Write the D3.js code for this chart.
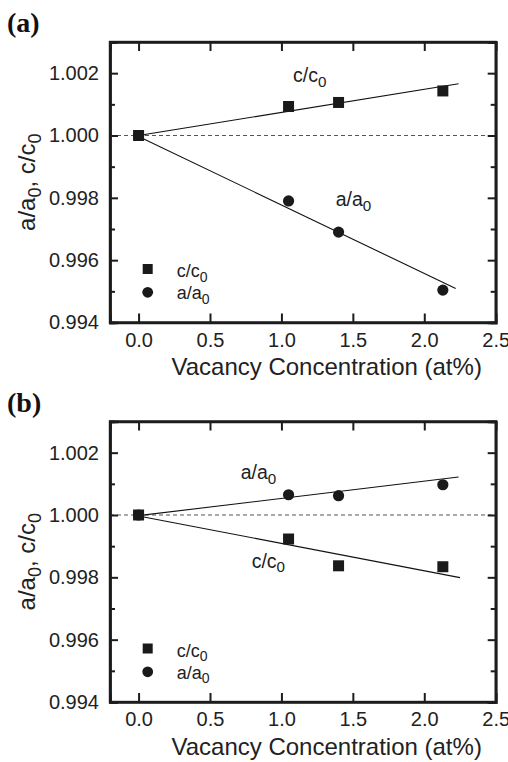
<!DOCTYPE html>
<html><head><meta charset="utf-8">
<script src="https://cdn.jsdelivr.net/npm/d3@7"></script>
<style>body{margin:0;background:#fff}svg{display:block}</style>
</head><body>
<svg id="c" width="508" height="762"></svg>
<script>
const xTicks = [0.0, 0.5, 1.0, 1.5, 2.0, 2.5];
const yTicks = [0.994, 0.996, 0.998, 1.000, 1.002];
const yMinor = [0.995, 0.997, 0.999, 1.001];
const conc = [0.0, 1.05, 1.40, 2.13];
// panel (a)
const aC = [1.0000, 1.00093, 1.00106, 1.00143];
const aA = [1.0000, 0.99790, 0.99690, 0.99504];
const aCfitX = [0.0, 2.24], aCfitY = [1.0000, 1.00166];
const aAfitX = [0.0, 2.22], aAfitY = [0.99997, 0.99509];
// panel (b)
const bA = [1.0000, 1.00065, 1.00062, 1.00097];
const bC = [1.0000, 0.99923, 0.99837, 0.99834];
const bAfitX = [0.0, 2.24], bAfitY = [0.99998, 1.00122];
const bCfitX = [0.0, 2.25], bCfitY = [0.99997, 0.99799];

const svg = d3.select("#c");
const W = 385.7, H = 280.5, L = 110;
const FONT = "Liberation Sans, Arial, sans-serif";

function panel(top, tag, cVals, aVals, cFit, aFit, labC, labA, topSeries) {
  const g = svg.append("g").attr("transform", "translate(" + L + "," + top + ")");
  const x = d3.scaleLinear().domain([-0.2, 2.5]).range([0, W]);
  const y = d3.scaleLinear().domain([0.994, 1.003]).range([H, 0]);
  // frame (drawn first)
  g.append("rect").attr("x", 0).attr("y", 0).attr("width", W).attr("height", H)
    .attr("fill", "none").attr("stroke", "#1c1c1c").attr("stroke-width", 2.4);
  // dashed reference line
  g.append("line").attr("x1", 0).attr("x2", W).attr("y1", y(1.0)).attr("y2", y(1.0))
    .attr("stroke", "#555555").attr("stroke-width", 1.2).attr("stroke-dasharray", "4,3");
  // fit lines
  const line = d3.line().x(d => x(d[0])).y(d => y(d[1]));
  [cFit, aFit].forEach(f => {
    g.append("path").attr("d", line(f[0].map((v, i) => [v, f[1][i]])))
      .attr("fill", "none").attr("stroke", "#111111").attr("stroke-width", 1.1);
  });
  // axes: tick marks point inward
  const fmtY = d3.format(".3f"), fmtX = d3.format(".1f");
  const axes = [
    g.append("g").attr("transform", "translate(0," + H + ")")
      .call(d3.axisBottom(x).tickValues(xTicks).tickSize(-9).tickPadding(10).tickFormat(fmtX)),
    g.append("g").call(d3.axisTop(x).tickValues(xTicks).tickSize(-9).tickFormat("")),
    g.append("g").call(d3.axisLeft(y).tickValues(yTicks).tickSize(-8).tickPadding(11).tickFormat(fmtY)),
    g.append("g").attr("transform", "translate(" + W + ",0)")
      .call(d3.axisRight(y).tickValues(yTicks).tickSize(-8).tickFormat("")),
    g.append("g").call(d3.axisLeft(y).tickValues(yMinor).tickSize(-5).tickFormat("")),
    g.append("g").attr("transform", "translate(" + W + ",0)")
      .call(d3.axisRight(y).tickValues(yMinor).tickSize(-5).tickFormat(""))
  ];
  axes.forEach(a => {
    a.select(".domain").attr("stroke", "#1c1c1c").attr("stroke-width", 2.4);
    a.selectAll(".tick line").attr("stroke", "#1c1c1c").attr("stroke-width", 2);
    a.selectAll(".tick text").attr("fill", "#222222").style("font-family", FONT).style("font-size", "20px");
  });
  // markers
  const sq = 11, r = 5.6;
  function drawC() {
    g.selectAll(null).data(conc).enter().append("rect")
      .attr("x", (d) => x(d) - sq / 2).attr("y", (d, i) => y(cVals[i]) - sq / 2)
      .attr("width", sq).attr("height", sq).attr("fill", "#1a1a1a");
  }
  function drawA() {
    g.selectAll(null).data(conc).enter().append("circle")
      .attr("cx", d => x(d)).attr("cy", (d, i) => y(aVals[i])).attr("r", r).attr("fill", "#1a1a1a");
  }
  if (topSeries === "c") { drawA(); drawC(); } else { drawC(); drawA(); }
  function sub(parent, px, py, base, size) {
    const t = parent.append("text").attr("x", px).attr("y", py)
      .style("font-family", FONT).style("font-size", size + "px").attr("fill", "#222222");
    t.append("tspan").text(base);
    t.append("tspan").attr("dy", size * 0.25).style("font-size", (size * 0.78) + "px").text("0");
    return t;
  }
  // legend
  g.append("rect").attr("x", 37.7 - 5).attr("y", 227 - 5).attr("width", 10).attr("height", 10).attr("fill", "#1a1a1a");
  g.append("circle").attr("cx", 37.7).attr("cy", 250.3).attr("r", 5.4).attr("fill", "#1a1a1a");
  sub(g, 66.7, 235, "c/c", 18);
  sub(g, 66.7, 257, "a/a", 18);
  // in-plot labels
  sub(g, labC[0], labC[1], "c/c", 19.5);
  sub(g, labA[0], labA[1], "a/a", 19.5);
  // axis titles
  svg.append("text").attr("x", 326.7).attr("y", top + H + 52.5)
    .attr("text-anchor", "middle").style("font-family", FONT).style("font-size", "24px")
    .attr("fill", "#222222").text("Vacancy Concentration (at%)");
  const yt = svg.append("text").attr("transform", "translate(35," + (top + H / 2) + ") rotate(-90)")
    .attr("text-anchor", "middle").style("font-family", FONT).style("font-size", "24px").attr("fill", "#222222");
  yt.append("tspan").text("a/a");
  yt.append("tspan").attr("dy", 6).style("font-size", "18px").text("0");
  yt.append("tspan").attr("dy", -6).text(", c/c");
  yt.append("tspan").attr("dy", 6).style("font-size", "18px").text("0");
  // panel tag
  svg.append("text").attr("x", 7).attr("y", top - 10)
    .style("font-family", "Liberation Serif, Times New Roman, serif").style("font-weight", "bold")
    .style("font-size", "28px").attr("fill", "#111111").text(tag);
}

panel(42, "(a)", aC, aA, [aCfitX, aCfitY], [aAfitX, aAfitY], [183, 40], [225.7, 164], "c");
panel(421.5, "(b)", bC, bA, [bCfitX, bCfitY], [bAfitX, bAfitY], [141.7, 146], [130.7, 57.5], "a");
</script>
</body></html>
